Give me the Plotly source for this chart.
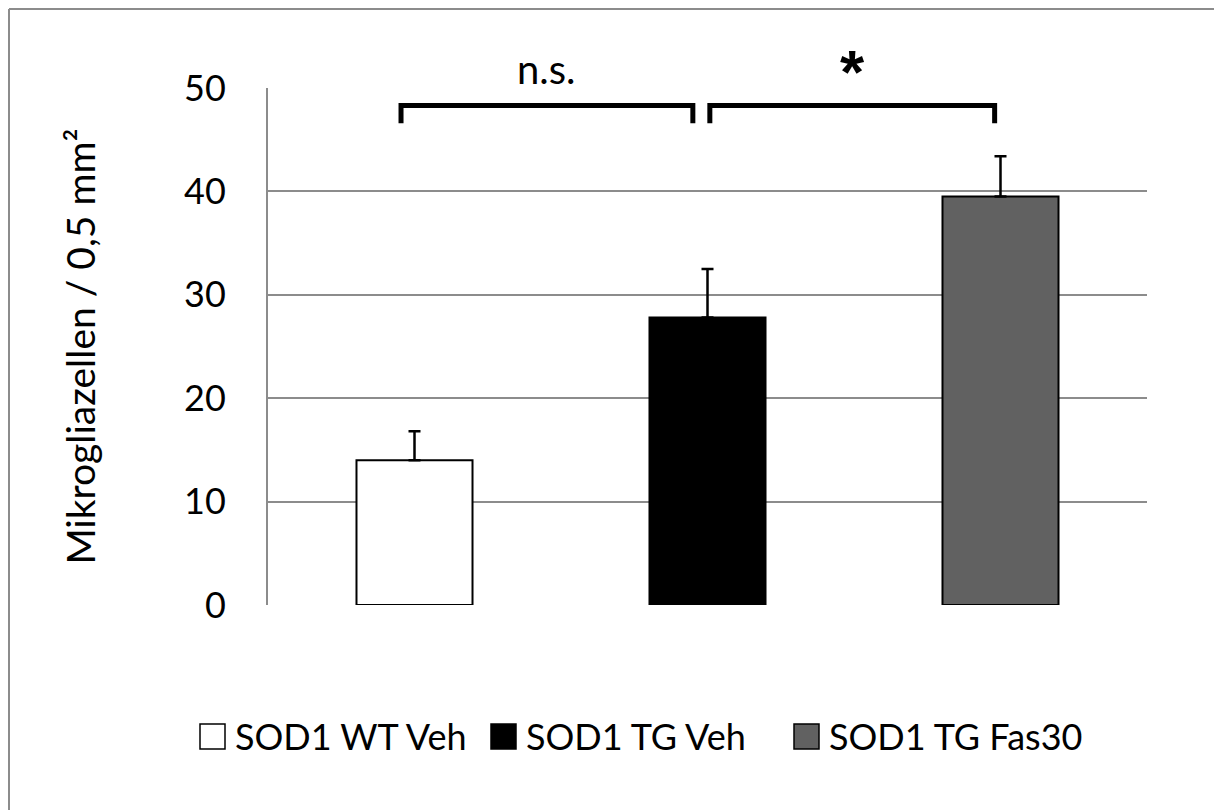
import plotly.graph_objects as go

# Microglia counts per group (mean and upper SEM)
groups = ["SOD1 WT Veh", "SOD1 TG Veh", "SOD1 TG Fas30"]
means = [14.0, 27.8, 39.5]
errors = [2.8, 4.7, 3.9]
fills = ["#FFFFFF", "#000000", "#616161"]

y_ticks = [0, 10, 20, 30, 40, 50]
Y_MAX = 50

FONT = "Lato"

# plot area in pixels, used to place the legend row below the axes
L, R, T, B = 268, 67, 88, 205
PW, PH = 1214 - L - R, 810 - T - B


def px_x(px):
    return (px - L) / PW


def px_y(py):
    return (T + PH - py) / PH


fig = go.Figure()
for g, m, e, c in zip(groups, means, errors, fills):
    fig.add_trace(go.Bar(
        x=[g], y=[m], name=g, showlegend=False,
        marker=dict(color=c, line=dict(color="#000000", width=2)),
        error_y=dict(type="data", symmetric=False, array=[e], arrayminus=[0],
                     color="#000000", thickness=2.5, width=6),
        width=0.396,
    ))

# legend row: swatch square followed by the group name
legend_left = [200, 491, 794]
for g, c, left in zip(groups, fills, legend_left):
    fig.add_shape(type="rect", xref="paper", yref="paper",
                  x0=px_x(left), x1=px_x(left + 25),
                  y0=px_y(749), y1=px_y(724),
                  fillcolor=c, line=dict(color="#000000", width=1.5))
    fig.add_annotation(xref="paper", yref="paper", x=px_x(left + 33),
                       y=px_y(736), xanchor="left", yanchor="middle",
                       text=g, showarrow=False,
                       font=dict(family=FONT, size=36, color="#000000"))

# significance brackets: (from index, to index, label, font, label size, label height)
brackets = [(-0.046, 0.95, "n.s.", FONT, 40, 51.8),
            (1.008, 1.98, "<b>*</b>", "Liberation Sans", 62, 51.6)]
for x0, x1, label, fam, size, y_lab in brackets:
    fig.add_shape(type="path",
                  path=f"M {x0} 46.6 L {x0} 48.3 L {x1} 48.3 L {x1} 46.6",
                  line=dict(color="#000000", width=5), xref="x", yref="y")
    fig.add_annotation(x=(x0 + x1) / 2, xref="x",
                       y=y_lab / Y_MAX, yref="paper",
                       text=label, showarrow=False, yanchor="middle",
                       font=dict(family=fam, size=size, color="#000000"))

# outer chart frame (top and left edges)
frame = dict(color="#8C8C8C", width=2)
fig.add_shape(type="line", xref="paper", yref="paper",
              x0=px_x(9), x1=1.2, y0=px_y(9), y1=px_y(9), line=frame)
fig.add_shape(type="line", xref="paper", yref="paper",
              x0=px_x(9), x1=px_x(9), y0=px_y(9), y1=-0.45, line=frame)

fig.update_layout(
    width=1214, height=810,
    margin=dict(l=L, r=R, t=T, b=B),
    paper_bgcolor="#FFFFFF", plot_bgcolor="#FFFFFF",
    font=dict(family=FONT, size=36, color="#000000"),
    showlegend=False,
    xaxis=dict(showticklabels=False, showgrid=False, showline=False,
               ticks="", zeroline=False, range=[-0.5, 2.5]),
    yaxis=dict(range=[0, Y_MAX], tickvals=y_ticks, showgrid=True,
               gridcolor="#8C8C8C", gridwidth=2, zeroline=False,
               showline=True, linecolor="#8C8C8C", linewidth=2,
               ticks="", ticklabelstandoff=33,
               tickfont=dict(family=FONT, size=36),
               title=dict(text="Mikrogliazellen / 0,5 mm²", standoff=76,
                          font=dict(family=FONT, size=39))),
)

fig.write_html("out.html")
